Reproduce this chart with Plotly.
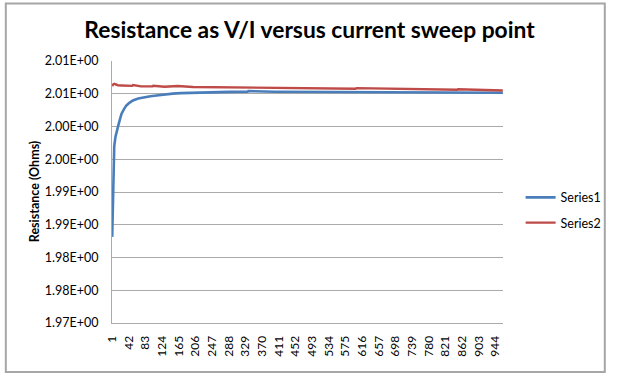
import plotly.graph_objects as go

# ---- data ----
s1_idx = [1, 2, 3, 4, 6, 9, 12, 16, 20, 24, 30, 36, 44, 52, 65, 80, 95, 110, 130, 150, 170, 190,
          220, 250, 290, 334, 336, 400, 480, 560, 643, 645, 720, 800, 852, 854, 900, 962]
s1_val = [1.98315, 1.98700, 1.98976, 1.99484, 1.99700, 1.99839, 1.99940, 2.00017, 2.00110, 2.00195,
          2.00265, 2.00322, 2.00365, 2.00398, 2.00428, 2.00448, 2.00462, 2.00474, 2.00490, 2.00502,
          2.00510, 2.00515, 2.00520, 2.00525, 2.00528, 2.00530, 2.00540, 2.00530, 2.00528, 2.00525,
          2.00522, 2.00530, 2.00521, 2.00520, 2.00518, 2.00526, 2.00517, 2.00515]

s2_idx = [1, 3, 6, 10, 15, 24, 35, 50, 52, 72, 100, 102, 130, 160, 162, 200, 233, 300, 400,
          474, 550, 600, 602, 715, 800, 850, 852, 900, 962]
s2_val = [2.00615, 2.00640, 2.00650, 2.00638, 2.00630, 2.00627, 2.00622, 2.00620, 2.00632, 2.00612,
          2.00612, 2.00622, 2.00606, 2.00608, 2.00618, 2.00604, 2.00601, 2.00595, 2.00588,
          2.00581, 2.00578, 2.00577, 2.00586, 2.00570, 2.00565, 2.00560, 2.00568, 2.00556, 2.00550]

x_ticks = [1, 42, 83, 124, 165, 206, 247, 288, 329, 370, 411, 452, 493, 534, 575, 616,
           657, 698, 739, 780, 821, 862, 903, 944]
y_ticks = [1.970, 1.975, 1.980, 1.985, 1.990, 1.995, 2.000, 2.005, 2.010]
y_labels = ["1.97E+00", "1.98E+00", "1.98E+00", "1.99E+00", "1.99E+00",
            "2.00E+00", "2.00E+00", "2.01E+00", "2.01E+00"]

title = "Resistance as V/I versus current sweep point"
y_title = "Resistance (Ohms)"

# ---- figure ----
W, H = 619, 376
L, R, T, B = 111.5, 108, 60.5, 53
pw, ph = W - L - R, H - T - B

def px_x(x):
    return (x - L) / pw

def px_y(y):
    return (H - B - y) / ph

font_family = "Lato, Open Sans, sans-serif"

fig = go.Figure()
fig.add_trace(go.Scatter(x=s1_idx, y=s1_val, mode="lines", name="Series1",
                         line=dict(color="#4A7EBB", width=2.6), legendgroup="a"))
fig.add_trace(go.Scatter(x=s2_idx, y=s2_val, mode="lines", name="Series2",
                         line=dict(color="#BE4B48", width=2.4), legendgroup="b"))

grid_c = "#ABABAB"
fig.update_layout(
    width=W, height=H,
    margin=dict(l=L, r=R, t=T, b=B, pad=0),
    paper_bgcolor="white", plot_bgcolor="white",
    font=dict(family=font_family, size=12, color="#000000"),
    title=dict(text="<b>" + title + "</b>", x=0.5, xanchor="center",
               y=1 - 30 / H, yanchor="middle",
               font=dict(family=font_family, size=22.8, color="#000000")),
    showlegend=True,
    legend=dict(x=px_x(529), y=px_y(182.5), xanchor="left", yanchor="top",
                bgcolor="rgba(0,0,0,0)", borderwidth=0,
                font=dict(size=12.5, color="#000000"),
                traceorder="grouped", tracegroupgap=6),
    xaxis=dict(range=[0.5, 962.5], tickmode="array", tickvals=x_ticks,
               ticktext=[str(v) for v in x_ticks], tickangle=-90,
               showgrid=False, zeroline=False, showline=True,
               linecolor=grid_c, linewidth=1, ticks="",
               ticklabelstandoff=7,
               tickfont=dict(size=12, color="#000000")),
    yaxis=dict(range=[1.970, 2.010], tickmode="array", tickvals=y_ticks,
               ticktext=y_labels, showgrid=True, gridcolor=grid_c, gridwidth=1,
               zeroline=False, showline=True, linecolor=grid_c, linewidth=1,
               ticks="", ticklabelstandoff=10,
               tickfont=dict(size=12.5, color="#000000")),
    annotations=[dict(text="<b>" + y_title + "</b>", xref="paper", yref="paper",
                      x=px_x(32), y=0.5, xanchor="center", yanchor="middle",
                      textangle=-90, showarrow=False,
                      font=dict(size=12.5, color="#000000"))],
    shapes=[dict(type="rect", xref="paper", yref="paper",
                 x0=px_x(3), x1=px_x(615), y0=px_y(372), y1=px_y(3),
                 line=dict(color="#A6A6A6", width=2), layer="below")],
)

fig.write_html("out.html", config={"displayModeBar": False},
               post_script="document.body.style.margin='0';document.body.style.overflow='hidden';")
